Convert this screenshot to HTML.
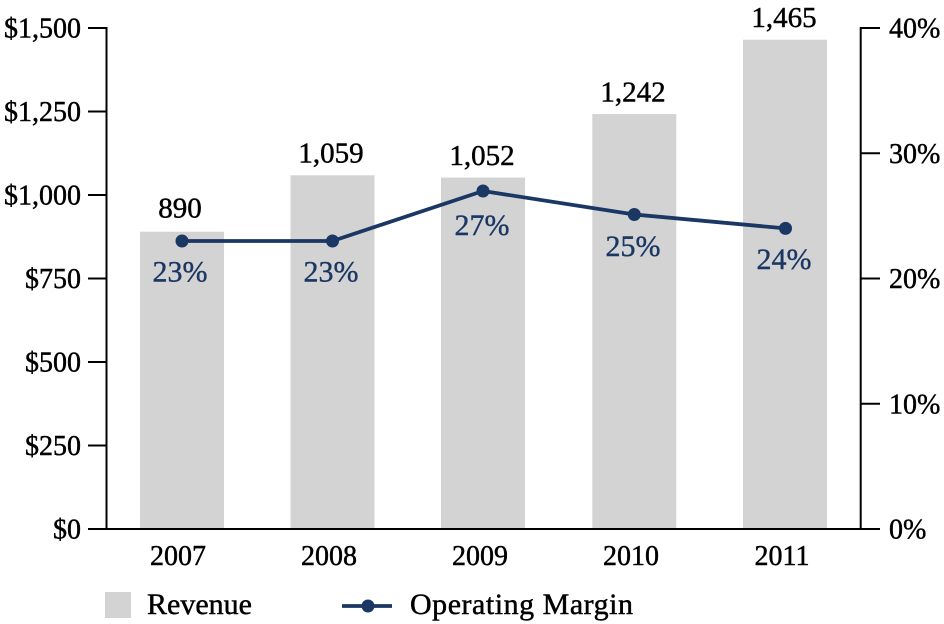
<!DOCTYPE html>
<html>
<head>
<meta charset="utf-8">
<style>
  html,body{margin:0;padding:0;background:#fff;}
  svg{display:block;}
  text{font-family:"Liberation Serif",serif;}
</style>
</head>
<body>
<svg width="944" height="624" viewBox="0 0 944 624" xmlns="http://www.w3.org/2000/svg">
  <!-- bars -->
  <g fill="#d3d3d3">
    <rect x="140" y="231.7" width="84" height="297.3"/>
    <rect x="290.5" y="175.3" width="84" height="353.7"/>
    <rect x="441" y="177.6" width="84" height="351.4"/>
    <rect x="592.3" y="114.1" width="84" height="414.9"/>
    <rect x="743" y="39.7" width="84" height="489.3"/>
  </g>

  <!-- axes -->
  <g stroke="#000" stroke-width="2" fill="none">
    <line x1="106.5" y1="27" x2="106.5" y2="530"/>
    <line x1="860.7" y1="27" x2="860.7" y2="530"/>
    <line x1="88" y1="529" x2="880" y2="529"/>
    <line x1="88" y1="28" x2="106.5" y2="28"/>
    <line x1="88" y1="111.5" x2="106.5" y2="111.5"/>
    <line x1="88" y1="195" x2="106.5" y2="195"/>
    <line x1="88" y1="278.5" x2="106.5" y2="278.5"/>
    <line x1="88" y1="362" x2="106.5" y2="362"/>
    <line x1="88" y1="445.5" x2="106.5" y2="445.5"/>
    <line x1="860.7" y1="28" x2="880" y2="28"/>
    <line x1="860.7" y1="153.25" x2="880" y2="153.25"/>
    <line x1="860.7" y1="278.5" x2="880" y2="278.5"/>
    <line x1="860.7" y1="403.75" x2="880" y2="403.75"/>
  </g>

  <!-- left tick labels -->
  <g font-size="28" fill="#000" stroke="#000" stroke-width="0.45" text-anchor="end">
    <text x="81" y="37.5">$1,500</text>
    <text x="81" y="121">$1,250</text>
    <text x="81" y="204.5">$1,000</text>
    <text x="81" y="288">$750</text>
    <text x="81" y="371.5">$500</text>
    <text x="81" y="455">$250</text>
    <text x="81" y="538.5">$0</text>
  </g>

  <!-- right tick labels -->
  <g font-size="28" fill="#000" stroke="#000" stroke-width="0.45" text-anchor="start">
    <text x="889" y="37.5">40%</text>
    <text x="889" y="162.75">30%</text>
    <text x="889" y="288">20%</text>
    <text x="889" y="413.25">10%</text>
    <text x="889" y="538.5">0%</text>
  </g>

  <!-- x labels -->
  <g font-size="28" fill="#000" stroke="#000" stroke-width="0.45" text-anchor="middle">
    <text x="178" y="565">2007</text>
    <text x="329" y="565">2008</text>
    <text x="480" y="565">2009</text>
    <text x="631" y="565">2010</text>
    <text x="782" y="565">2011</text>
  </g>

  <!-- bar value labels -->
  <g font-size="29" fill="#000" stroke="#000" stroke-width="0.45" text-anchor="middle">
    <text x="180" y="217.5">890</text>
    <text x="331" y="162.5">1,059</text>
    <text x="482" y="165">1,052</text>
    <text x="633" y="101.5">1,242</text>
    <text x="784" y="27">1,465</text>
  </g>

  <!-- line -->
  <polyline points="182,241 332.5,241 483,191 634.3,214.5 785.5,228.4" fill="none" stroke="#1b3764" stroke-width="3.8" stroke-linejoin="round"/>
  <g fill="#1b3764">
    <circle cx="182" cy="241" r="6.5"/>
    <circle cx="332.5" cy="241" r="6.5"/>
    <circle cx="483" cy="191" r="6.5"/>
    <circle cx="634.3" cy="214.5" r="6.5"/>
    <circle cx="785.5" cy="228.4" r="6.5"/>
  </g>
  <g font-size="30" fill="#1b3764" stroke="#1b3764" stroke-width="0.4" text-anchor="middle">
    <text x="180" y="281.5">23%</text>
    <text x="331" y="281.5">23%</text>
    <text x="482" y="235">27%</text>
    <text x="633" y="256">25%</text>
    <text x="784" y="269">24%</text>
  </g>

  <!-- legend -->
  <rect x="105" y="592" width="26" height="26" fill="#d3d3d3"/>
  <text x="147" y="614" font-size="30" fill="#000" stroke="#000" stroke-width="0.45">Revenue</text>
  <line x1="342" y1="606" x2="392" y2="606" stroke="#1b3764" stroke-width="3.8"/>
  <circle cx="368" cy="606" r="6.5" fill="#1b3764"/>
  <text x="410" y="614" font-size="30" fill="#000" stroke="#000" stroke-width="0.45" textLength="223" lengthAdjust="spacing">Operating Margin</text>
</svg>
</body>
</html>
